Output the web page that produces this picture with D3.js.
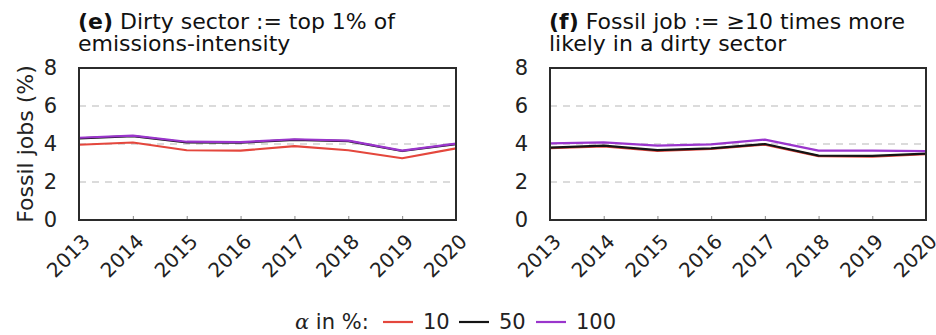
<!DOCTYPE html>
<html>
<head>
<meta charset="utf-8">
<script src="https://cdn.jsdelivr.net/npm/d3@7/dist/d3.min.js"></script>
<style>
  html, body { margin: 0; padding: 0; background: #fff; }
  svg { display: block; font-family: "DejaVu Sans", sans-serif; }
</style>
</head>
<body>
<svg id="chart" width="936" height="335"></svg>
<script>
// Years on the x axis
const years = [2013, 2014, 2015, 2016, 2017, 2018, 2019, 2020];
const yTicks = [0, 2, 4, 6, 8];
const gridTicks = [2, 4, 6];

// Series legend: alpha in %
const alphaLabels = ["10", "50", "100"];
const alphaColors = ["#e4473d", "#141414", "#9a35cc"];

// Panel (e): dirty sector = top 1% of emissions-intensity
const eAlpha10  = [3.96, 4.08, 3.67, 3.65, 3.89, 3.67, 3.25, 3.77];
const eAlpha50  = [4.30, 4.41, 4.08, 4.07, 4.22, 4.15, 3.63, 3.99];
const eAlpha100 = [4.33, 4.44, 4.12, 4.10, 4.25, 4.18, 3.65, 4.02];

// Panel (f): fossil job = >=10 times more likely in a dirty sector
const fAlpha10  = [3.78, 3.88, 3.64, 3.74, 3.97, 3.36, 3.34, 3.46];
const fAlpha50  = [3.81, 3.91, 3.68, 3.77, 4.00, 3.39, 3.37, 3.49];
const fAlpha100 = [4.03, 4.09, 3.91, 3.98, 4.23, 3.65, 3.65, 3.63];

const svg = d3.select("#chart");

const panels = [
  { left: 79, right: 456, tag: "(e)", line1: "Dirty sector := top 1% of", line2: "emissions-intensity",
    series: [eAlpha10, eAlpha50, eAlpha100], ylabel: true },
  { left: 550, right: 926, tag: "(f)", line1: "Fossil job := \u226510 times more", line2: "likely in a dirty sector",
    series: [fAlpha10, fAlpha50, fAlpha100], ylabel: false }
];

const plotTop = 68, plotBottom = 220;
const y = d3.scaleLinear().domain([0, 8]).range([plotBottom, plotTop]);

panels.forEach(p => {
  const x = d3.scalePoint().domain(years).range([p.left, p.right]);
  const g = svg.append("g");

  // dashed grid
  g.selectAll("line.grid").data(gridTicks).join("line")
    .attr("class", "grid")
    .attr("x1", p.left).attr("x2", p.right)
    .attr("y1", d => y(d)).attr("y2", d => y(d))
    .attr("stroke", "#cfcfcf").attr("stroke-width", 1.3)
    .attr("stroke-dasharray", "7,6");

  // y axis labels
  const yAxis = d3.axisLeft(y).tickValues(yTicks).tickSize(0).tickPadding(22);
  const ya = g.append("g").attr("transform", `translate(${p.left},0)`).call(yAxis);
  ya.select(".domain").remove();
  ya.selectAll("text").attr("font-size", 21).attr("fill", "#222")
    .attr("font-family", "DejaVu Sans, sans-serif");

  // x axis
  const xAxis = d3.axisBottom(x).tickSizeInner(-4).tickSizeOuter(0).tickPadding(0);
  const xa = g.append("g").attr("transform", `translate(0,${plotBottom})`).call(xAxis);
  xa.select(".domain").remove();
  xa.selectAll(".tick line").attr("stroke", "#888");
  xa.selectAll("text")
    .attr("font-size", 20).attr("fill", "#222")
    .attr("font-family", "DejaVu Sans, sans-serif")
    .attr("text-anchor", "end")
    .attr("dy", null).attr("y", null)
    .attr("transform", "translate(1,12) rotate(-45)")
    .attr("dominant-baseline", "hanging");

  // series lines
  const line = d3.line().x((d, i) => x(years[i])).y(d => y(d));
  p.series.forEach((s, k) => {
    g.append("path").datum(s)
      .attr("d", line)
      .attr("fill", "none")
      .attr("stroke", alphaColors[k])
      .attr("stroke-width", 2.2)
      .attr("stroke-linejoin", "round");
  });

  // frame
  g.append("rect")
    .attr("x", p.left).attr("y", plotTop)
    .attr("width", p.right - p.left).attr("height", plotBottom - plotTop)
    .attr("fill", "none").attr("stroke", "#2b2b2b").attr("stroke-width", 2);

  // title: bold panel tag followed by the description
  const tag = g.append("text").attr("x", p.left - 1).attr("y", 29)
    .attr("font-size", 22).attr("font-weight", "bold").attr("fill", "#111")
    .text(p.tag);
  const tagW = tag.node().getComputedTextLength();
  g.append("text").attr("x", p.left - 1 + tagW + 7).attr("y", 29)
    .attr("font-size", 22).attr("fill", "#111").text(p.line1);
  g.append("text").attr("x", p.left - 1).attr("y", 51)
    .attr("font-size", 22).attr("fill", "#111").text(p.line2);

  if (p.ylabel) {
    g.append("text")
      .attr("transform", `translate(33,${(plotTop + plotBottom) / 2}) rotate(-90)`)
      .attr("text-anchor", "middle")
      .attr("font-size", 22).attr("fill", "#222")
      .text("Fossil jobs (%)");
  }
});

// legend
const leg = svg.append("g").attr("font-size", 21).attr("fill", "#222");
const legY = 322;
leg.append("text").attr("x", 295).attr("y", legY + 7)
  .html('<tspan font-style="italic" font-family="DejaVu Serif, serif">\u03b1</tspan> in %:');
const legX = [383, 459, 536];
alphaLabels.forEach((lab, k) => {
  leg.append("line").attr("x1", legX[k]).attr("x2", legX[k] + 30)
    .attr("y1", legY).attr("y2", legY)
    .attr("stroke", alphaColors[k]).attr("stroke-width", 2.2);
  leg.append("text").attr("x", legX[k] + 40).attr("y", legY + 7).text(lab);
});
</script>
</body>
</html>
